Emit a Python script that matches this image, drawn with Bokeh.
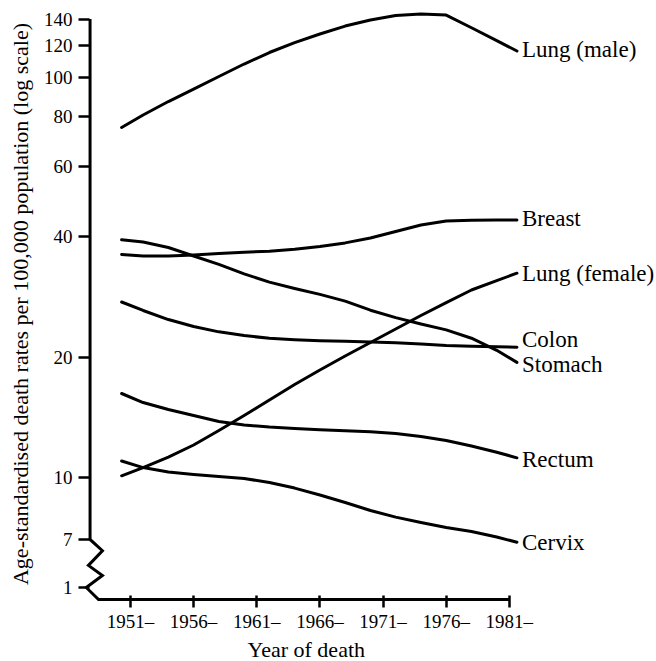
from bokeh.plotting import figure
from bokeh.models import FixedTicker, Range1d, ColumnDataSource, Title
from bokeh.core.properties import value
from bokeh.embed import file_html
from bokeh.resources import INLINE

# ---- data ----
years = [1950.3, 1952, 1954, 1956, 1958, 1960, 1962, 1964, 1966, 1968,
         1970, 1972, 1974, 1976, 1978, 1980, 1981.6]

lung_male   = [75.0, 80.6, 87.1, 93.6, 100.6, 108.1, 115.5, 122.3, 128.5, 134.5,
               139.3, 142.9, 144.1, 143.3, 133.2, 123.7, 116.5]
breast      = [36.1, 35.8, 35.8, 36.0, 36.3, 36.6, 36.8, 37.2, 37.8, 38.6,
               39.7, 41.2, 42.8, 43.8, 44.0, 44.05, 44.05]
lung_female = [10.1, 10.59, 11.25, 12.06, 13.11, 14.29, 15.62, 17.08, 18.57, 20.13,
               21.76, 23.51, 25.41, 27.38, 29.43, 31.08, 32.42]
colon       = [27.47, 26.16, 24.83, 23.85, 23.13, 22.65, 22.28, 22.11, 21.98, 21.91,
               21.83, 21.72, 21.56, 21.38, 21.28, 21.22, 21.17]
stomach     = [39.3, 38.8, 37.6, 35.8, 34.1, 32.3, 30.8, 29.7, 28.7, 27.6,
               26.2, 25.1, 24.2, 23.4, 22.3, 20.8, 19.4]
rectum      = [16.22, 15.40, 14.79, 14.29, 13.80, 13.53, 13.37, 13.26, 13.16, 13.09,
               13.01, 12.88, 12.66, 12.37, 11.99, 11.57, 11.2]
cervix      = [11.0, 10.59, 10.32, 10.18, 10.06, 9.94, 9.72, 9.41, 9.04, 8.66,
               8.27, 7.96, 7.72, 7.50, 7.33, 7.10, 6.89]

series_names = ["Lung (male)", "Breast", "Lung (female)", "Colon", "Stomach", "Rectum", "Cervix"]
series_values = [lung_male, breast, lung_female, colon, stomach, rectum, cervix]
label_nudge_px = [-2, -1, 0, -8, 2, 2, 0]

x_ticks = [1951, 1956, 1961, 1966, 1971, 1976, 1981]
x_tick_labels = ["1951\u2013", "1956\u2013", "1961\u2013", "1966\u2013", "1971\u2013", "1976\u2013", "1981\u2013"]
y_ticks = [5.3, 7, 10, 20, 40, 60, 80, 100, 120, 140]
y_tick_labels = ["1", "7", "10", "20", "40", "60", "80", "100", "120", "140"]

# broken-axis decoration (vertical axis 140 -> 7, zigzag, then x axis)
axis_x = [1947.8, 1947.8, 1948.78, 1947.67, 1948.78, 1947.5, 1948.47, 1981.0]
axis_y = [140, 7.0, 6.56, 6.03, 5.69, 5.31, 4.955, 4.955]

FONT = "Liberation Serif"

p = figure(width=656, height=661, y_axis_type="log",
           x_range=Range1d(1947.36, 1992.65), y_range=Range1d(4.87, 151.4),
           output_backend="svg", toolbar_location=None,
           min_border_left=84, min_border_right=0, min_border_top=5, min_border_bottom=59)

p.outline_line_color = None
p.xgrid.visible = False
p.ygrid.visible = False
p.background_fill_color = "white"
p.border_fill_color = "white"

# axis decoration line
p.line(axis_x, axis_y, line_color="black", line_width=3, line_join="miter")

for vals in series_values:
    p.line(years, vals, line_color="black", line_width=3, line_join="round", line_cap="round")

src = ColumnDataSource(dict(
    x=[years[-1] + 0.4] * len(series_names),
    y=[v[-1] for v in series_values],
    text=series_names,
    yo=label_nudge_px,
))
p.text(x="x", y="y", text="text", y_offset="yo", source=src,
       text_font=value(FONT), text_font_size="23px",
       text_baseline="middle", text_align="left", text_color="black")

# x axis
xa = p.xaxis[0]
xa.ticker = FixedTicker(ticks=x_ticks)
xa.major_label_overrides = {t: l for t, l in zip(x_ticks, x_tick_labels)}
xa.axis_line_color = None
xa.minor_tick_line_color = None
xa.major_tick_in = 7
xa.major_tick_out = 5
xa.major_tick_line_width = 2.5
xa.major_tick_line_color = "black"
xa.major_label_standoff = 3
xa.major_label_text_font = FONT
xa.major_label_text_font_size = "19px"
xa.major_label_text_color = "black"

# x-axis title, placed under the drawn axis span
p.add_layout(Title(text="Year of death", align="left", offset=163, standoff=0,
                   text_font=FONT, text_font_size="22px", text_font_style="normal",
                   text_color="black"), "below")

# y axis
ya = p.yaxis[0]
ya.ticker = FixedTicker(ticks=y_ticks)
ya.major_label_overrides = {t: l for t, l in zip(y_ticks, y_tick_labels)}
ya.axis_line_color = None
ya.minor_tick_line_color = None
ya.major_tick_in = 5
ya.major_tick_out = 6
ya.major_tick_line_width = 2.5
ya.major_tick_line_color = "black"
ya.major_label_standoff = 6
ya.major_label_text_font = FONT
ya.major_label_text_font_size = "19px"
ya.major_label_text_color = "black"
ya.axis_label = "Age-standardised death rates per 100,000 population (log scale)"
ya.axis_label_text_font = FONT
ya.axis_label_text_font_size = "22px"
ya.axis_label_text_font_style = "normal"
ya.axis_label_text_color = "black"
ya.axis_label_standoff = 8

open("out.html", "w").write(file_html(p, INLINE))
